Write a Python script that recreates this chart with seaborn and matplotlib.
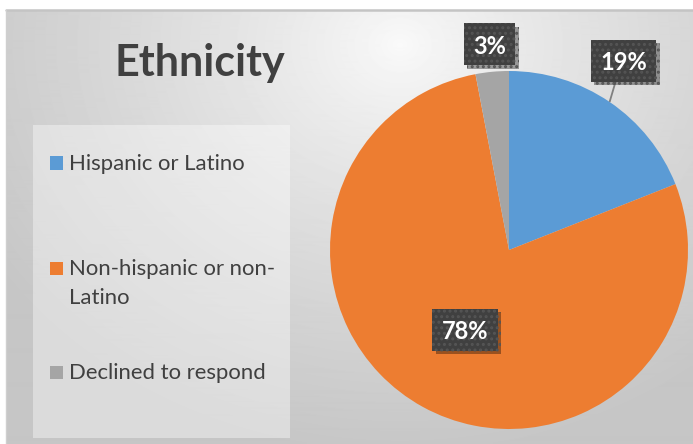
import numpy as np
import matplotlib
matplotlib.use("Agg")
import matplotlib.pyplot as plt
import seaborn as sns
from matplotlib.patches import Rectangle
from matplotlib.lines import Line2D
import matplotlib.patheffects as pe

# ---- data ----
categories = ["Hispanic or Latino", "Non-hispanic or non-\nLatino", "Declined to respond"]
values = [19, 78, 3]
pct_labels = ["19%", "78%", "3%"]
colors = ["#5B9BD5", "#ED7D31", "#A5A5A5"]
title = "Ethnicity"

sns.set_theme(style="white")
plt.rcParams["font.family"] = ["Lato", "DejaVu Sans"]
plt.rcParams["hatch.linewidth"] = 1.4

W, H = 693, 444
fig = plt.figure(figsize=(W / 100, H / 100), dpi=100)
fig.patch.set_facecolor("white")

# ---- chart-area background (radial gray gradient) ----
bx0, btop = 6, 10
bg = fig.add_axes([bx0 / W, 0, (W - bx0) / W, (H - btop) / H])
yy, xx = np.mgrid[btop:H, bx0:W]
cxg, cyg = 400, 45
d = np.sqrt((xx - cxg) ** 2 + ((yy - cyg) / 0.85) ** 2)
t = np.clip(d / 480, 0, 1) ** 0.8
v = (250 - 52 * t) / 255
bg.imshow(v, cmap="gray", vmin=0, vmax=1, aspect="auto", extent=[0, 1, 0, 1],
          interpolation="bilinear")
bg.set_xlim(0, 1)
bg.set_ylim(0, 1)
bg.axis("off")
fig.add_artist(Line2D([bx0 / W, 1], [1 - btop / H, 1 - btop / H],
                      transform=fig.transFigure, color="#c4c4c4", lw=1.8))
fig.add_artist(Line2D([bx0 / W, bx0 / W], [0, 1 - btop / H],
                      transform=fig.transFigure, color="#cfcfcf", lw=1.0))

# ---- title ----
fig.text(200 / W, 1 - 76 / H, title, ha="center", va="baseline",
         fontsize=31, fontweight="bold", color="#404040")

# ---- legend (drawn manually to mimic the spaced layout) ----
fig.add_artist(Rectangle((33 / W, 1 - 438 / H), (290 - 33) / W, (438 - 125) / H,
                         transform=fig.transFigure, facecolor=(1, 1, 1, 0.38),
                         edgecolor="none"))
sq_centers = [163, 268, 372]
for cat, col, yc in zip(categories, colors, sq_centers):
    fig.add_artist(Rectangle((50 / W, 1 - (yc + 6.5) / H), 13 / W, 13 / H,
                             transform=fig.transFigure, facecolor=col,
                             edgecolor="none"))
    for i, line in enumerate(cat.split("\n")):
        fig.text(69 / W, 1 - (yc + 7 + 29 * i) / H, line, ha="left",
                 va="baseline", fontsize=15.9, color="#404040")

# ---- pie ----
pcx, pcy, R = 509, 250, 179
ax = fig.add_axes([(pcx - R) / W, (H - pcy - R) / H, 2 * R / W, 2 * R / H])
ax.pie(values, colors=colors, startangle=90, counterclock=False, radius=1,
       wedgeprops=dict(linewidth=0))
ax.set_xlim(-1, 1)
ax.set_ylim(-1, 1)
ax.set_aspect("equal")
ax.axis("off")

total = float(sum(values))
cum = np.cumsum([0] + values[:-1])
mids = [90 - 360 * (c + val / 2) / total for c, val in zip(cum, values)]
radii = [1.235, 0.51, 1.155]
ang_off = [3.0, 0.0, 0.0]

fig.canvas.draw()
renderer = fig.canvas.get_renderer()
inv = ax.transData.inverted()
box_h = 42  # px
pad_x = 9.5  # px

for i, (lab, m) in enumerate(zip(pct_labels, mids)):
    a = np.deg2rad(m + ang_off[i])
    x, y = radii[i] * np.cos(a), radii[i] * np.sin(a)
    txt = ax.text(x, y, lab, ha="center", va="center_baseline", color="white",
                  fontsize=17, fontweight="bold", zorder=6)
    bb = txt.get_window_extent(renderer)
    cxp, cyp = ax.transData.transform((x, y))
    bw = bb.width + 2 * pad_x
    (x0, y0) = inv.transform((cxp - bw / 2, cyp - box_h / 2))
    (x1, y1) = inv.transform((cxp + bw / 2, cyp + box_h / 2))
    box = Rectangle((x0, y0), x1 - x0, y1 - y0, facecolor="#404040",
                    edgecolor="#555555", lw=0, hatch="...", zorder=5,
                    clip_on=False)
    box.set_path_effects(
        [pe.SimplePatchShadow(offset=(2.5, -2.5), shadow_rgbFace="black", alpha=0.35),
         pe.Normal()])
    ax.add_patch(box)
    if i == 0:
        am = np.deg2rad(m)
        (ex, ey) = inv.transform((cxp - 8, cyp - box_h / 2))
        ax.plot([np.cos(am), ex], [np.sin(am), ey], color="#808080", lw=1.3,
                solid_capstyle="butt", zorder=3, clip_on=False)

fig.savefig("out.png", dpi=100)
